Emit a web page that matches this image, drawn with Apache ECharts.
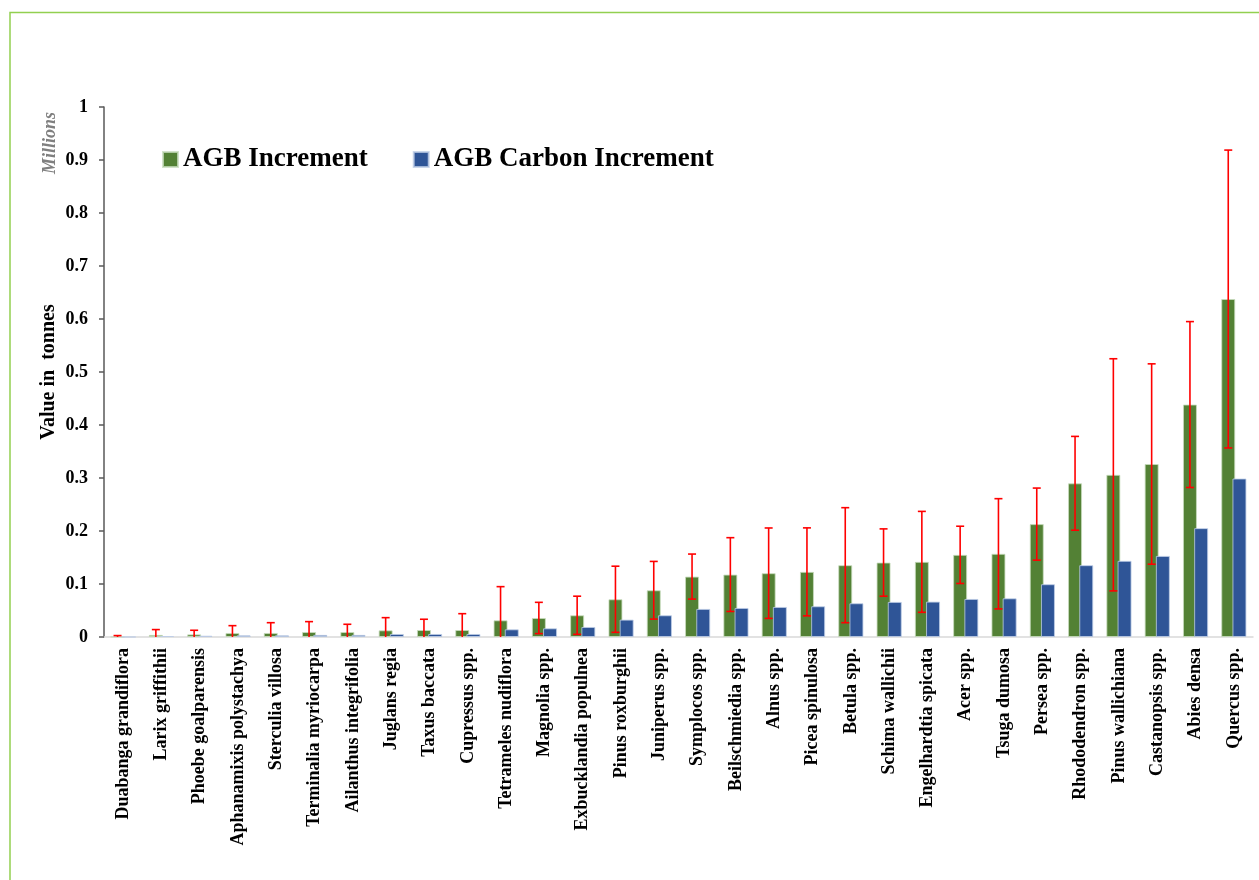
<!DOCTYPE html>
<html>
<head>
<meta charset="utf-8">
<script src="https://cdn.jsdelivr.net/npm/echarts@6/dist/echarts.min.js"></script>
<style>
html,body{margin:0;padding:0;background:#fff;}
#chart{width:1259px;height:880px;}
</style>
</head>
<body>
<div id="chart"></div>
<script>
var categories = [
  'Duabanga grandiflora','Larix griffithii','Phoebe goalparensis','Aphanamixis polystachya',
  'Sterculia villosa','Terminalia myriocarpa','Ailanthus integrifolia','Juglans regia',
  'Taxus baccata','Cupressus spp.','Tetrameles nudiflora','Magnolia spp.',
  'Exbucklandia populnea','Pinus roxburghii','Juniperus spp.','Symplocos spp.',
  'Beilschmiedia spp.','Alnus spp.','Picea spinulosa','Betula spp.',
  'Schima wallichii','Engelhardtia spicata','Acer spp.','Tsuga dumosa',
  'Persea spp.','Rhododendron spp.','Pinus wallichiana','Castanopsis spp.',
  'Abies densa','Quercus spp.'
];
// values in millions of tonnes
var agbIncrement = [
  0.0005, 0.004, 0.005, 0.0076, 0.0076, 0.0094, 0.0094, 0.0126, 0.0132, 0.0132,
  0.0315, 0.0359, 0.041, 0.0712, 0.0882, 0.114, 0.1178, 0.1204, 0.1229, 0.1355,
  0.1405, 0.1418, 0.155, 0.157, 0.213, 0.29, 0.306, 0.3264, 0.4386, 0.6377
];
var agbError = [
  0.0022, 0.010, 0.0077, 0.0138, 0.0194, 0.0196, 0.0146, 0.0239, 0.0203, 0.0308,
  0.0635, 0.0295, 0.036, 0.0624, 0.0544, 0.0425, 0.0696, 0.0853, 0.083, 0.1085,
  0.0635, 0.0952, 0.054, 0.104, 0.068, 0.0885, 0.219, 0.189, 0.1565, 0.281
];
var carbonIncrement = [
  0.0002, 0.0018, 0.0025, 0.0032, 0.0032, 0.004, 0.004, 0.0057, 0.0057, 0.0057,
  0.0145, 0.0164, 0.0189, 0.0328, 0.041, 0.053, 0.0548, 0.0567, 0.058, 0.0637,
  0.0662, 0.0668, 0.0718, 0.073, 0.0996, 0.1355, 0.1437, 0.153, 0.2054, 0.299
];
var yTicks = [0, 0.1, 0.2, 0.3, 0.4, 0.5, 0.6, 0.7, 0.8, 0.9, 1];

var FONT = '"Liberation Serif", "Times New Roman", serif';
var BAR_W = 14;
var GREEN_OFFSET = -5.6;

var errData = agbIncrement.map(function (v, i) { return [i, v, agbError[i]]; });

var chart = echarts.init(document.getElementById('chart'));
chart.setOption({
  animation: false,
  backgroundColor: '#ffffff',
  graphic: [
    {
      type: 'polyline',
      shape: { points: [[10, 880], [10, 12.5], [1259, 12.5]] },
      style: { stroke: '#92d050', lineWidth: 1.5, fill: null },
      silent: true
    },
    {
      type: 'text',
      x: 50, y: 143,
      rotation: Math.PI / 2,
      style: {
        text: 'Millions',
        font: 'italic bold 18px ' + FONT,
        fill: '#7f7f7f',
        align: 'center',
        verticalAlign: 'middle'
      }
    }
  ],
  legend: {
    data: ['AGB Increment', 'AGB Carbon Increment'],
    left: 157,
    top: 141,
    icon: 'rect',
    itemWidth: 15,
    itemHeight: 15,
    itemGap: 45,
    textStyle: { fontFamily: FONT, fontWeight: 'bold', fontSize: 27, color: '#000' }
  },
  grid: { left: 104, right: 6, top: 107, bottom: 243, outerBoundsMode: 'none' },
  xAxis: {
    type: 'category',
    data: categories,
    axisLine: { lineStyle: { color: '#d9d9d9', width: 1.5 } },
    axisTick: { show: false },
    axisLabel: {
      interval: 0,
      rotate: 90,
      margin: 11,
      fontFamily: FONT,
      fontWeight: 'bold',
      fontSize: 18,
      color: '#000'
    }
  },
  yAxis: {
    type: 'value',
    min: yTicks[0],
    max: yTicks[yTicks.length - 1],
    interval: 0.1,
    name: 'Value in  tonnes',
    nameLocation: 'middle',
    nameRotate: 90,
    nameGap: 45,
    nameMoveOverlap: false,
    nameTextStyle: { fontFamily: FONT, fontWeight: 'bold', fontSize: 20, color: '#000' },
    splitLine: { show: false },
    axisLine: { show: true, lineStyle: { color: '#595959', width: 1.5 } },
    axisTick: { show: true, inside: false, length: 5, lineStyle: { color: '#595959', width: 1.5 } },
    axisLabel: {
      margin: 16,
      fontFamily: FONT,
      fontWeight: 'bold',
      fontSize: 18,
      color: '#000'
    }
  },
  series: [
    {
      name: 'AGB Increment',
      type: 'bar',
      data: agbIncrement,
      barWidth: BAR_W,
      barGap: '-20%',
      itemStyle: { color: '#538135', borderColor: 'rgba(200,220,190,0.8)', borderWidth: 1 },
      z: 2
    },
    {
      name: 'AGB Carbon Increment',
      type: 'bar',
      data: carbonIncrement,
      barWidth: BAR_W,
      barGap: '-20%',
      itemStyle: { color: '#2f5597', borderColor: 'rgba(190,205,230,0.8)', borderWidth: 1 },
      z: 3
    },
    {
      name: 'err',
      type: 'custom',
      data: errData,
      encode: { x: 0, y: [1, 2] },
      z: 5,
      silent: true,
      renderItem: function (params, api) {
        var i = api.value(0);
        var mean = api.value(1);
        var sd = api.value(2);
        var hiV = mean + sd;
        var loV = mean - sd;
        var hi = api.coord([i, hiV]);
        var lo = api.coord([i, Math.max(loV, 0)]);
        var x = hi[0] + GREEN_OFFSET;
        var cap = 4;
        var style = { stroke: '#ff0000', lineWidth: 1.6 };
        var children = [
          { type: 'line', shape: { x1: x, y1: hi[1], x2: x, y2: lo[1] }, style: style },
          { type: 'line', shape: { x1: x - cap, y1: hi[1], x2: x + cap, y2: hi[1] }, style: style }
        ];
        if (loV > 0) {
          children.push({ type: 'line', shape: { x1: x - cap, y1: lo[1], x2: x + cap, y2: lo[1] }, style: style });
        }
        return { type: 'group', children: children };
      }
    }
  ]
});
</script>
</body>
</html>
